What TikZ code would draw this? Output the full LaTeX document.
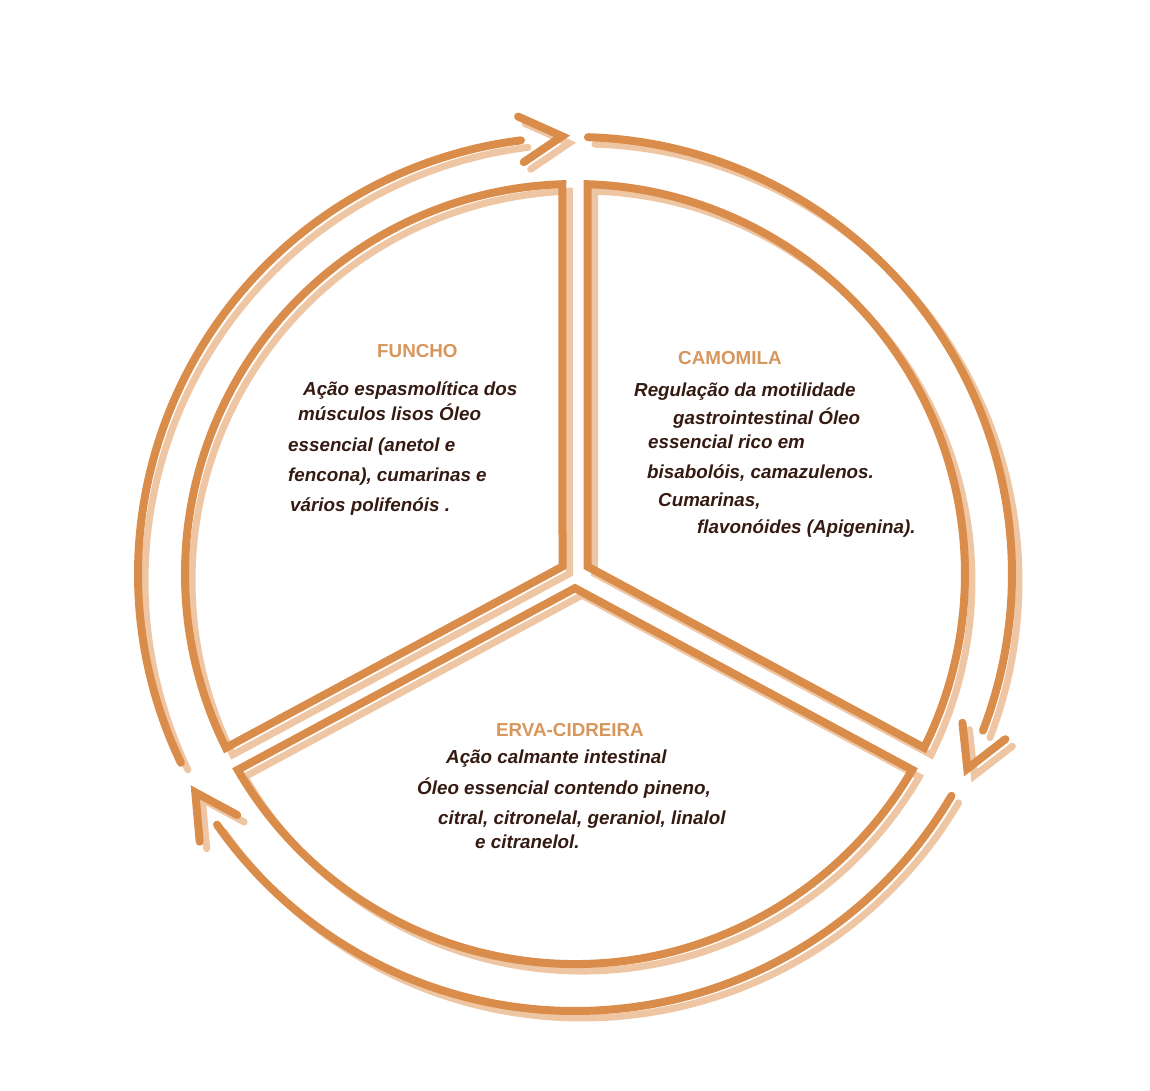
\documentclass[tikz,border=0pt]{standalone}
\usepackage{fontspec}
\setmainfont{Liberation Sans}
\definecolor{mainline}{RGB}{218,140,74}
\definecolor{shadowline}{RGB}{239,198,164}
\definecolor{titlecol}{RGB}{214,150,92}
\definecolor{bodycol}{RGB}{52,26,16}
\tikzset{
  ringline/.style={line width=8pt, color=mainline, line cap=round, line join=miter},
  ringshadow/.style={line width=7pt, color=shadowline, line cap=round, line join=miter},
  titletext/.style={anchor=base west, inner sep=0pt, text=titlecol, font=\fontsize{18.8}{22}\selectfont\bfseries},
  bodytext/.style={anchor=base west, inner sep=0pt, text=bodycol, font=\fontsize{18.8}{22}\selectfont\bfseries\itshape}
}
\newcommand{\ringshapes}[1]{%
  % sectors
  \draw[#1] (-12.5,7.47) -- (91.84:390) arc[start angle=91.84, end angle=206.46, radius=390] -- cycle;
  \draw[#1] (12.5,7.47) -- (-26.46:390) arc[start angle=-26.46, end angle=88.16, radius=390] -- cycle;
  \draw[#1] (0,-14.19) -- (210.14:390) arc[start angle=210.14, end angle=329.86, radius=390] -- cycle;
  % outer arcs
  \draw[#1] (205.6:437) arc[start angle=205.6, end angle=97.1, radius=437];
  \draw[#1] (88.3:437) arc[start angle=88.3, end angle=-21, radius=437];
  \draw[#1] (-30.5:437) arc[start angle=-30.5, end angle=-145, radius=437];
  % chevrons
  \draw[#1] (97.1:461) -- (91.7:438) -- (97.1:415);
  \draw[#1] (-21:461) -- (-26.4:438) -- (-21:415);
  \draw[#1] (215.5:461) -- (209.9:438) -- (215.5:415);
}
\begin{document}
\begin{tikzpicture}[x=1pt,y=1pt]
\useasboundingbox (-575,-516) rectangle (575,574);
\begin{scope}[shift={(7,-7)}]
  \ringshapes{ringshadow}
\end{scope}
\ringshapes{ringline}
\begin{scope}[shift={(-575,574)}, yscale=-1]
  \node[titletext] (t1) at (377,357) {FUNCHO};
  \node[bodytext] (f1) at (303,395) {Ação espasmolítica dos};
  \node[bodytext] (f2) at (298,420) {músculos lisos Óleo};
  \node[bodytext] (f3) at (288,451) {essencial (anetol e};
  \node[bodytext] (f4) at (288,481) {fencona), cumarinas e};
  \node[bodytext] (f5) at (290,511) {vários polifenóis .};
  \node[titletext] (t2) at (678,364) {CAMOMILA};
  \node[bodytext] (c1) at (634,396) {Regulação da motilidade};
  \node[bodytext] (c2) at (673,424) {gastrointestinal Óleo};
  \node[bodytext] (c3) at (648,448) {essencial rico em};
  \node[bodytext] (c4) at (647,478) {bisabolóis, camazulenos.};
  \node[bodytext] (c5) at (658,506) {Cumarinas,};
  \node[bodytext] (c6) at (697,533) {flavonóides (Apigenina).};
  \node[titletext] (t3) at (496,736) {ERVA-CIDREIRA};
  \node[bodytext] (e1) at (446,763) {Ação calmante intestinal};
  \node[bodytext] (e2) at (417,794) {Óleo essencial contendo pineno,};
  \node[bodytext] (e3) at (438,824) {citral, citronelal, geraniol, linalol};
  \node[bodytext] (e4) at (475,848) {e citranelol.};
\end{scope}
\end{tikzpicture}
\end{document}
